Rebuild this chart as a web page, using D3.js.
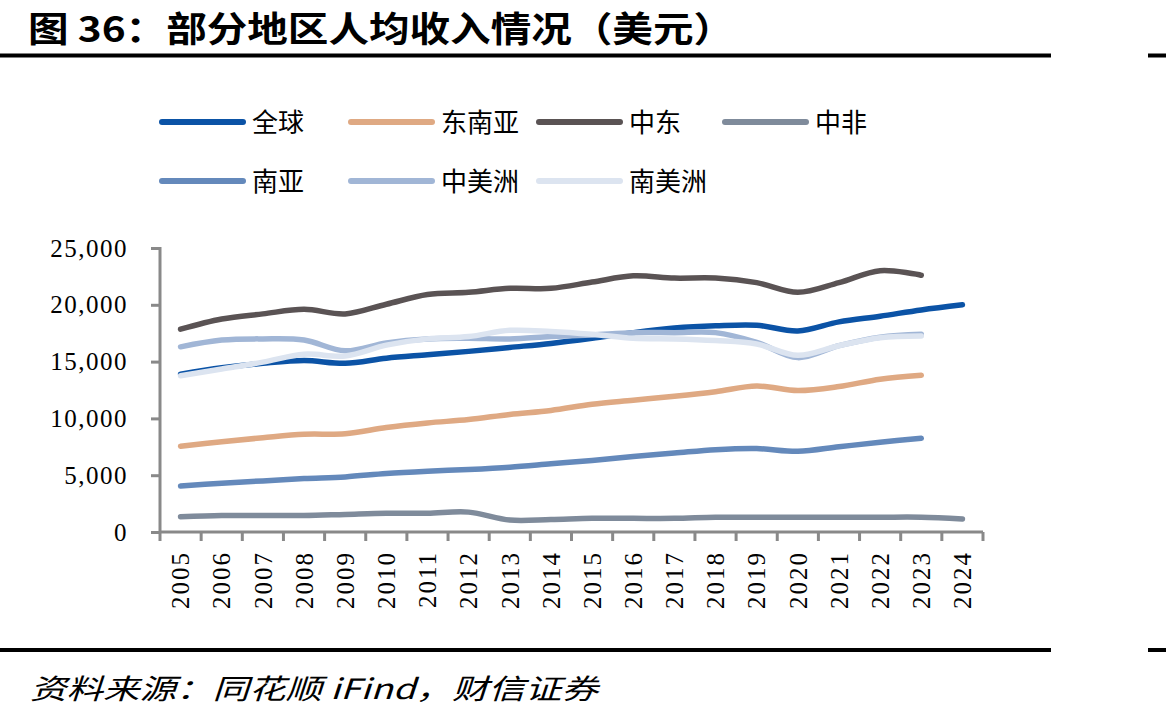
<!DOCTYPE html>
<html><head><meta charset="utf-8">
<script src="https://cdn.jsdelivr.net/npm/d3@7"></script>
<style>html,body{margin:0;padding:0;background:#fff;}svg{display:block;}</style>
</head><body>
<svg id="chart" width="1166" height="718"></svg>
<script>
const years = ["2005","2006","2007","2008","2009","2010","2011","2012","2013","2014","2015","2016","2017","2018","2019","2020","2021","2022","2023","2024"];
const seriesNames = ["全球","东南亚","中东","中非","南亚","中美洲","南美洲"];
const global = [13900,14450,14850,15100,14850,15300,15600,15900,16250,16600,17050,17550,17950,18150,18200,17700,18500,19000,19550,20000];
const southeastAsia = [7550,7950,8300,8600,8650,9200,9600,9900,10350,10700,11250,11600,11950,12350,12850,12450,12800,13450,13800,null];
const middleEast = [17850,18750,19200,19600,19200,20050,20900,21100,21450,21450,22000,22550,22350,22350,21950,21100,21950,23000,22600,null];
const centralAfrica = [1350,1450,1450,1450,1550,1650,1650,1750,1050,1100,1200,1200,1200,1300,1300,1300,1300,1300,1300,1150];
const southAsia = [4050,4300,4500,4700,4850,5150,5350,5500,5700,6000,6300,6650,6950,7250,7350,7100,7500,7900,8250,null];
const centralAmerica = [16300,16900,17000,16900,15950,16650,17000,17050,17000,17200,17350,17550,17550,17550,16700,15350,16400,17150,17400,null];
const southAmerica = [13750,14350,14950,15650,15500,16450,17000,17200,17750,17650,17400,17050,17000,16850,16550,15550,16400,17100,17250,null];
const yTicks = [0,5000,10000,15000,20000,25000];
const colors = ["#0b53a6","#dfa983","#5a5354","#7f8b9b","#6489bb","#a1b6d6","#dce4f0"];
const allSeries = [global,southeastAsia,middleEast,centralAfrica,southAsia,centralAmerica,southAmerica];

const svg = d3.select("#chart");
const cjk = "'Noto Sans CJK SC','Noto Sans CJK JP',sans-serif";
const serif = "'Liberation Serif','DejaVu Serif',serif";

// Title
svg.append("text").attr("x",28).attr("y",42)
  .attr("font-family",cjk).attr("font-weight",700).attr("font-size",35)
  .attr("textLength",706).attr("lengthAdjust","spacingAndGlyphs")
  .attr("fill","#000").text("图 36：部分地区人均收入情况（美元）");
// Rules
[55.5, 650].forEach(y=>{
  svg.append("rect").attr("x",0).attr("y",y-2).attr("width",1051).attr("height",4).attr("fill","#000");
  svg.append("rect").attr("x",1148).attr("y",y-2).attr("width",18).attr("height",4).attr("fill","#000");
});
// Footer
svg.append("text").attr("x",30).attr("y",699)
  .attr("font-family",cjk).attr("font-size",28).attr("font-style","italic")
  .attr("textLength",568).attr("lengthAdjust","spacingAndGlyphs")
  .attr("fill","#000").text("资料来源：同花顺 iFind，财信证券");

// Scales
const x = d3.scaleBand().domain(years).range([160,983]);
const y = d3.scaleLinear().domain([0,25000]).range([532,248]);

// Axes
const axisColor = "#898989";
const gy = svg.append("g").attr("transform","translate(160,0)")
  .call(d3.axisLeft(y).tickValues(yTicks).tickSize(9).tickPadding(23).tickFormat(d3.format(",")));
const gx = svg.append("g").attr("transform","translate(0,532)")
  .call(d3.axisBottom(x).tickSize(0).tickFormat(d=>d));
[gy,gx].forEach(g=>{
  g.select(".domain").attr("stroke",axisColor).attr("stroke-width",3);
  g.selectAll(".tick line").attr("stroke",axisColor).attr("stroke-width",3);
});
gy.select(".domain").attr("d","M-9,248.5H0V532");
gy.selectAll(".tick text").attr("font-family",serif).attr("font-size",25).attr("fill","#000").attr("letter-spacing",1.5);
gx.select(".domain").attr("d","M160,0H983");
// x tick marks at band boundaries
const bounds = years.map(d=>x(d)).concat([983]);
gx.selectAll(".bt").data(bounds).enter().append("line")
  .attr("x1",d=>d).attr("x2",d=>d).attr("y1",0).attr("y2",9)
  .attr("stroke",axisColor).attr("stroke-width",3);
gx.selectAll(".tick text")
  .attr("font-family",serif).attr("font-size",25).attr("fill","#000").attr("letter-spacing",2)
  .attr("text-anchor","end").attr("transform","rotate(-90)")
  .attr("x",-19).attr("y",0).attr("dy","0.35em");

// Lines
const line = d3.line()
  .defined(d=>d.v!=null)
  .x(d=>x(d.year)+x.bandwidth()/2)
  .y(d=>y(d.v))
  .curve(d3.curveCatmullRom.alpha(0.5));
allSeries.forEach((s,i)=>{
  svg.append("path")
    .datum(s.map((v,j)=>({year:years[j],v})))
    .attr("d",line).attr("fill","none")
    .attr("stroke",colors[i]).attr("stroke-width",5.5)
    .attr("stroke-linecap","round").attr("stroke-linejoin","round");
});

// Legend
const legendPos = [[159,122],[348,122],[536,122],[722,122],[159,181],[348,181],[536,181]];
seriesNames.forEach((name,i)=>{
  const [lx,ly] = legendPos[i];
  svg.append("line").attr("x1",lx+3).attr("x2",lx+84).attr("y1",ly).attr("y2",ly)
    .attr("stroke",colors[i]).attr("stroke-width",6).attr("stroke-linecap","round");
  svg.append("text").attr("x",lx+93).attr("y",ly+10)
    .attr("font-family",cjk).attr("font-size",26).attr("fill","#000").text(name);
});
</script>
</body></html>
